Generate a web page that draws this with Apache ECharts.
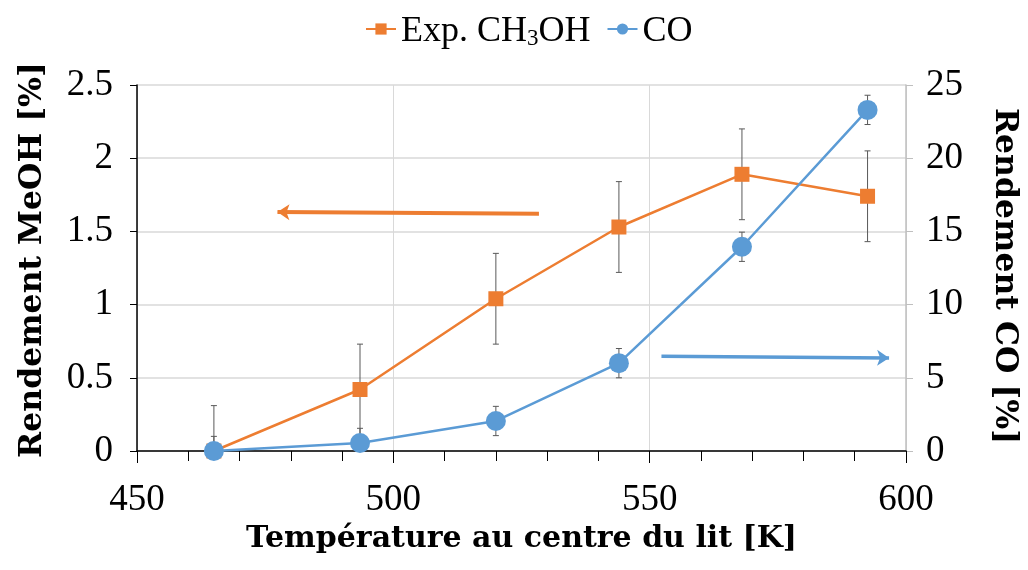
<!DOCTYPE html>
<html>
<head>
<meta charset="utf-8">
<script src="https://cdn.jsdelivr.net/npm/echarts@6/dist/echarts.min.js"></script>
<style>html,body{margin:0;padding:0;background:#fff}#c{width:1028px;height:570px}</style>
</head>
<body>
<div id="c"></div>
<script>
// ---- data ----
const temperatures = [465, 493.5, 520, 544, 568, 592.5];
const methanolYield = [0, 0.42, 1.04, 1.53, 1.89, 1.74];
const methanolErr = [0.31, 0.31, 0.31, 0.31, 0.31, 0.31];
const coYield = [0, 0.55, 2.05, 6.0, 13.95, 23.3];
const coErr = [1, 1, 1, 1, 1, 1];
const xRange = [450, 600, 50];
const leftRange = [0, 2.5, 0.5];
const rightRange = [0, 25, 5];
const seriesNames = ['Exp. CH3OH', 'CO'];
const axisTitles = ['Température au centre du lit [K]', 'Rendement MeOH [%]', 'Rendement CO [%]'];
const leftArrow = [[528.4, 1.62], [477.4, 1.632]];
const rightArrow = [[552.3, 6.48], [596.7, 6.36]];

const ORANGE = '#ED7D31', BLUE = '#5B9BD5';
const SERIF = "'Liberation Serif', serif";
const SERIF_B = "'DejaVu Serif', serif";

function pairs(xs, ys) { return xs.map((x, i) => [x, ys[i]]); }
function errData(xs, ys, es) { return xs.map((x, i) => [x, Math.max(0, ys[i] - es[i]), ys[i] + es[i]]); }

function errRender(params, api) {
  const x = api.value(0);
  const lo = api.coord([x, api.value(1)]);
  const hi = api.coord([x, api.value(2)]);
  const w = 3;
  const st = { stroke: '#595959', lineWidth: 1 };
  return {
    type: 'group',
    children: [
      { type: 'line', shape: { x1: lo[0], y1: lo[1], x2: hi[0], y2: hi[1] }, style: st },
      { type: 'line', shape: { x1: hi[0] - w, y1: hi[1], x2: hi[0] + w, y2: hi[1] }, style: st },
      { type: 'line', shape: { x1: lo[0] - w, y1: lo[1], x2: lo[0] + w, y2: lo[1] }, style: st }
    ]
  };
}

const chart = echarts.init(document.getElementById('c'), null, { renderer: 'canvas' });
chart.setOption({
  animation: false,
  backgroundColor: '#fff',
  grid: { left: 137, right: 118, top: 85, bottom: 119 },
  legend: {
    top: 9,
    left: 360,
    itemWidth: 30,
    itemHeight: 14,
    itemGap: 16,
    data: seriesNames,
    formatter: function (name) {
      if (name === seriesNames[0]) return '{a|Exp. CH}{s|3}{a|OH}';
      return '{a|' + name + '}';
    },
    textStyle: {
      color: '#000',
      fontFamily: SERIF,
      fontSize: 36,
      rich: {
        a: { fontFamily: SERIF, fontSize: 36, lineHeight: 42, verticalAlign: 'bottom', color: '#000' },
        s: { fontFamily: SERIF, fontSize: 23, lineHeight: 23, verticalAlign: 'bottom', color: '#000' }
      }
    }
  },
  xAxis: {
    type: 'value',
    min: xRange[0], max: xRange[1], interval: xRange[2],
    name: axisTitles[0],
    nameLocation: 'middle',
    nameGap: 53,
    nameTextStyle: { fontFamily: SERIF_B, fontWeight: 'bold', fontSize: 30, color: '#000' },
    axisLine: { show: true, onZero: false, lineStyle: { color: '#000', width: 1.5 } },
    axisTick: { show: true, inside: false, length: 12, lineStyle: { color: '#000', width: 1 } },
    minorTick: { show: true, splitNumber: 5, length: 10, lineStyle: { color: '#000', width: 1 } },
    axisLabel: { fontFamily: SERIF, fontSize: 37, color: '#000', margin: 31 },
    splitLine: { show: true, lineStyle: { color: '#d9d9d9', width: 1 } }
  },
  yAxis: [
    {
      type: 'value',
      min: leftRange[0], max: leftRange[1], interval: leftRange[2],
      name: axisTitles[1],
      nameLocation: 'middle',
      nameGap: 88,
      nameTextStyle: { fontFamily: SERIF_B, fontWeight: 'bold', fontSize: 31.5, color: '#000', padding: [0, 0, 0, 16] },
      axisLine: { show: true, lineStyle: { color: '#000', width: 1.5 } },
      axisTick: { show: true, length: 7, lineStyle: { color: '#000' } },
      axisLabel: { fontFamily: SERIF, fontSize: 37, color: '#000', margin: 24 },
      splitLine: { show: true, lineStyle: { color: '#d9d9d9', width: 1.5 } }
    },
    {
      type: 'value',
      position: 'right',
      min: rightRange[0], max: rightRange[1], interval: rightRange[2],
      name: axisTitles[2],
      nameLocation: 'middle',
      nameGap: 82,
      nameRotate: -90,
      nameTextStyle: { fontFamily: SERIF_B, fontWeight: 'bold', fontSize: 31.5, color: '#000', padding: [0, 0, 0, 16] },
      axisLine: { show: true, lineStyle: { color: '#bfbfbf', width: 1.5 } },
      axisTick: { show: true, length: 7, lineStyle: { color: '#bfbfbf' } },
      axisLabel: { fontFamily: SERIF, fontSize: 37, color: '#000', margin: 20 },
      splitLine: { show: false }
    }
  ],
  series: [
    {
      type: 'custom',
      name: 'errMeOH',
      xAxisIndex: 0, yAxisIndex: 0,
      renderItem: errRender,
      data: errData(temperatures, methanolYield, methanolErr),
      z: 1, silent: true, clip: false
    },
    {
      type: 'custom',
      name: 'errCO',
      xAxisIndex: 0, yAxisIndex: 1,
      renderItem: errRender,
      data: errData(temperatures, coYield, coErr),
      z: 1, silent: true, clip: false
    },
    {
      type: 'line',
      name: seriesNames[0],
      yAxisIndex: 0,
      data: pairs(temperatures, methanolYield),
      symbol: 'rect',
      symbolSize: 15,
      color: ORANGE,
      lineStyle: { color: ORANGE, width: 2.5 },
      itemStyle: { color: ORANGE },
      z: 3,
      markLine: {
        silent: true,
        symbol: ['none', 'arrow'],
        symbolSize: 12,
        label: { show: false },
        lineStyle: { color: ORANGE, width: 4, type: 'solid' },
        data: [[{ coord: leftArrow[0] }, { coord: leftArrow[1] }]]
      }
    },
    {
      type: 'line',
      name: seriesNames[1],
      yAxisIndex: 1,
      data: pairs(temperatures, coYield),
      symbol: 'circle',
      symbolSize: 20,
      color: BLUE,
      lineStyle: { color: BLUE, width: 2.5 },
      itemStyle: { color: BLUE },
      z: 4,
      markLine: {
        silent: true,
        symbol: ['none', 'arrow'],
        symbolSize: 12,
        label: { show: false },
        lineStyle: { color: BLUE, width: 3.5, type: 'solid' },
        data: [[{ coord: rightArrow[0] }, { coord: rightArrow[1] }]]
      }
    }
  ]
});
</script>
</body>
</html>
